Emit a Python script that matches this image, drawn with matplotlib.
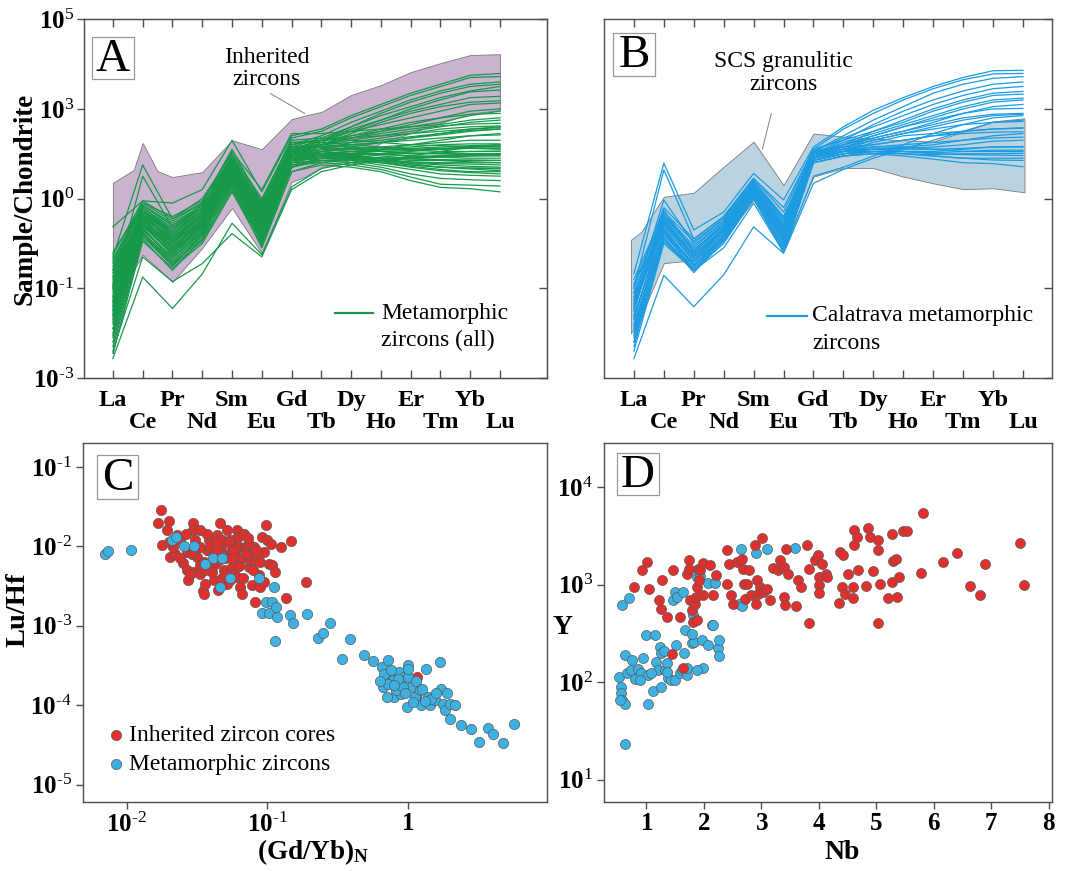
import numpy as np
import matplotlib
matplotlib.use('Agg')
import matplotlib.pyplot as plt
from matplotlib.patches import Rectangle
from matplotlib.ticker import NullLocator
import matplotlib.transforms as mtransforms

plt.rcParams['font.family'] = ['Liberation Serif', 'DejaVu Serif']
plt.rcParams['mathtext.fontset'] = 'custom'
plt.rcParams['mathtext.rm'] = 'Liberation Serif'
plt.rcParams['mathtext.bf'] = 'Liberation Serif:bold'
plt.rcParams['mathtext.it'] = 'Liberation Serif:italic'

ree = ['La', 'Ce', 'Pr', 'Nd', 'Sm', 'Eu', 'Gd', 'Tb', 'Dy', 'Ho', 'Er', 'Tm', 'Yb', 'Lu']

# --- panel A: inherited zircon envelope (log10 sample/chondrite) ---
inh_env_x = [0, 0.7, 1, 1.5, 2, 3, 4, 5, 6, 6.5, 7, 8, 9, 10, 11, 12, 13]
inh_env_hi = [1.35, 1.64, 2.24, 1.61, 1.48, 1.59, 2.30, 2.10, 2.77, 2.86, 2.93, 3.31, 3.53, 3.82, 4.02, 4.20, 4.22]
inh_env_lo = [-2.44, -0.6, -0.25, -0.55, -0.86, -0.1, 0.79, -0.22, 1.37, 1.5, 1.70, 1.86, 2.24, 2.46, 2.68, 2.90, 2.97]

# metamorphic zircons (all), log10 sample/chondrite
met_all_log = [
    [0.37, 0.95, 0.9, 1.2, 2.3, 1.15, 2.4, 2.55, 2.85, 3.1, 3.35, 3.55, 3.75, 3.79],
    [-0.3, 1.75, 0.55, 0.9, 2.1, 0.9, 2.35, 2.5, 2.8, 3.05, 3.3, 3.5, 3.7, 3.72],
    [-0.6, 0.85, 0.4, 0.8, 1.95, 0.8, 2.2, 2.4, 2.7, 2.95, 3.2, 3.4, 3.55, 3.6],
    [-0.9, 0.7, 0.2, 0.7, 1.85, 0.7, 2.15, 2.35, 2.6, 2.85, 3.05, 3.25, 3.4, 3.5],
    [-1.2, 0.6, 0.1, 0.6, 1.8, 0.55, 2.1, 2.3, 2.55, 2.75, 2.95, 3.1, 3.25, 3.28],
    [-0.5, 0.8, 0.3, 0.75, 1.7, 0.6, 2.0, 2.25, 2.5, 2.65, 2.8, 2.95, 3.1, 3.13],
    [-1.5, 0.5, -0.1, 0.5, 1.6, 0.4, 1.95, 2.2, 2.4, 2.55, 2.7, 2.8, 2.88, 2.9],
    [-0.8, 0.65, 0.0, 0.55, 1.75, 0.5, 2.05, 2.2, 2.35, 2.45, 2.55, 2.62, 2.66, 2.68],
    [-1.0, 0.55, 0.15, 0.65, 1.65, 0.45, 1.95, 2.1, 2.25, 2.35, 2.45, 2.55, 2.6, 2.62],
    [-1.3, 0.4, -0.2, 0.4, 1.55, 0.3, 1.9, 2.05, 2.1, 2.15, 2.2, 2.25, 2.3, 2.3],
    [-0.7, 0.75, 0.25, 0.7, 1.7, 0.65, 2.0, 2.1, 2.12, 2.13, 2.15, 2.2, 2.22, 2.22],
    [-1.8, 0.3, -0.3, 0.3, 1.5, 0.2, 1.85, 2.0, 2.05, 2.05, 2.07, 2.1, 2.12, 2.1],
    [-0.4, 0.9, 0.6, 0.95, 1.85, 0.85, 2.1, 2.15, 2.1, 2.05, 2.0, 2.0, 2.0, 2.0],
    [-2.0, 0.2, -0.5, 0.2, 1.4, 0.1, 1.8, 1.95, 2.0, 1.98, 1.95, 1.95, 1.95, 1.95],
    [-1.1, 0.6, 0.05, 0.5, 1.6, 0.5, 1.9, 2.0, 1.95, 1.9, 1.88, 1.87, 1.86, 1.85],
    [-1.6, 0.45, -0.25, 0.35, 1.45, 0.25, 1.85, 1.95, 1.9, 1.85, 1.8, 1.78, 1.77, 1.75],
    [-0.2, 0.85, 0.45, 0.85, 1.75, 0.7, 1.95, 2.0, 1.92, 1.85, 1.75, 1.7, 1.68, 1.68],
    [-2.3, 0.1, -0.6, 0.1, 1.3, 0.0, 1.7, 1.85, 1.85, 1.8, 1.72, 1.65, 1.6, 1.6],
    [-1.4, 0.5, -0.05, 0.45, 1.55, 0.35, 1.85, 1.9, 1.85, 1.75, 1.65, 1.55, 1.52, 1.5],
    [-0.9, 0.65, 0.1, 0.6, 1.6, 0.45, 1.8, 1.85, 1.8, 1.7, 1.55, 1.45, 1.42, 1.4],
    [-1.7, 0.35, -0.4, 0.25, 1.35, 0.15, 1.75, 1.8, 1.75, 1.65, 1.48, 1.32, 1.3, 1.28],
    [-2.1, 0.25, -0.45, 0.15, 1.25, -0.1, 1.6, 1.75, 1.7, 1.6, 1.4, 1.25, 1.22, 1.15],
    [-2.56, -0.75, -1.45, -0.68, 0.45, -0.25, 1.26, 1.67, 1.8, 1.85, 1.9, 1.95, 2.0, 2.0],
    [-2.4, -0.3, -0.85, -0.45, 0.22, -0.3, 1.2, 1.6, 1.75, 1.85, 1.95, 2.05, 2.15, 2.2],
    [-0.6, 0.7, 0.3, 0.9, 2.05, 1.2, 2.45, 2.45, 2.5, 2.55, 2.6, 2.65, 2.75, 2.8],
    [-1.0, 1.5, 0.35, 0.8, 1.9, 0.75, 2.25, 2.3, 2.35, 2.4, 2.45, 2.5, 2.55, 2.6],
    [-1.9, 0.45, -0.15, 0.5, 1.7, 0.6, 2.0, 2.3, 2.6, 2.9, 3.15, 3.35, 3.5, 3.55],
    [-1.25, 0.55, -0.1, 0.55, 1.65, 0.55, 2.0, 2.2, 2.45, 2.7, 2.9, 3.05, 3.15, 3.18],
    [-0.75, 0.6, 0.05, 0.6, 1.55, 0.4, 1.9, 1.95, 1.97, 2.0, 2.05, 2.1, 2.15, 2.15],
    [-1.5, 0.4, -0.2, 0.45, 1.5, 0.3, 1.85, 1.9, 1.88, 1.85, 1.82, 1.8, 1.8, 1.8],
    [-1.35, 0.5, 0.0, 0.55, 1.7, 0.55, 2.05, 2.15, 2.2, 2.25, 2.3, 2.35, 2.4, 2.42],
    [-0.95, 0.7, 0.15, 0.65, 1.8, 0.65, 2.1, 2.2, 2.3, 2.4, 2.5, 2.6, 2.7, 2.75],
    [-1.65, 0.35, -0.35, 0.3, 1.45, 0.3, 1.9, 2.05, 2.15, 2.25, 2.35, 2.45, 2.55, 2.58],
    [-0.55, 0.8, 0.35, 0.8, 1.9, 0.9, 2.2, 2.3, 2.4, 2.5, 2.6, 2.7, 2.85, 2.95],
    [-2.2, 0.15, -0.5, 0.05, 1.2, 0.05, 1.7, 1.9, 2.0, 2.1, 2.2, 2.3, 2.4, 2.45],
    [-1.05, 0.6, 0.1, 0.6, 1.75, 0.75, 2.05, 2.1, 2.05, 2.0, 1.95, 1.92, 1.9, 1.9],
    [-1.45, 0.45, -0.15, 0.4, 1.6, 0.45, 1.95, 2.05, 2.0, 1.95, 1.9, 1.85, 1.82, 1.8],
    [-0.85, 0.75, 0.2, 0.7, 1.85, 0.8, 2.15, 2.2, 2.15, 2.1, 2.08, 2.05, 2.05, 2.05],
    [-1.75, 0.3, -0.3, 0.25, 1.4, 0.2, 1.8, 1.95, 1.95, 1.9, 1.85, 1.85, 1.85, 1.85],
    [-0.35, 0.9, 0.5, 0.9, 1.95, 0.95, 2.25, 2.25, 2.2, 2.15, 2.1, 2.1, 2.12, 2.12],
    [-1.2, 0.55, 0.0, 0.5, 1.65, 0.5, 2.0, 2.05, 1.98, 1.9, 1.8, 1.75, 1.72, 1.7],
    [-1.55, 0.4, -0.2, 0.35, 1.5, 0.35, 1.9, 2.0, 1.95, 1.88, 1.78, 1.7, 1.66, 1.62],
    [-0.65, 0.7, 0.25, 0.75, 1.75, 0.6, 2.0, 2.1, 2.1, 2.1, 2.12, 2.15, 2.18, 2.2],
    [-1.9, 0.25, -0.4, 0.2, 1.35, 0.1, 1.75, 1.9, 1.92, 1.9, 1.9, 1.92, 1.95, 1.98],
    [-1.15, 0.6, 0.05, 0.6, 1.7, 0.6, 2.05, 2.15, 2.1, 2.05, 2.02, 2.0, 1.98, 1.97],
    [-0.45, 0.85, 0.4, 0.85, 1.8, 0.7, 2.1, 2.15, 2.2, 2.25, 2.35, 2.42, 2.5, 2.55],
    [-1.0, 0.65, 0.1, 0.65, 1.75, 0.55, 2.05, 2.2, 2.35, 2.5, 2.65, 2.8, 2.95, 3.0],
    [-2.05, 0.2, -0.45, 0.1, 1.3, 0.05, 1.7, 1.85, 1.85, 1.82, 1.75, 1.7, 1.68, 1.66],
    [-1.3, 0.5, -0.05, 0.45, 1.6, 0.4, 1.95, 2.0, 2.0, 2.0, 2.0, 2.02, 2.05, 2.06],
    [-0.75, 0.75, 0.3, 0.8, 1.85, 0.85, 2.15, 2.2, 2.25, 2.3, 2.38, 2.45, 2.52, 2.55],
    [-1.6, 0.4, -0.25, 0.35, 1.5, 0.35, 1.9, 1.95, 1.9, 1.8, 1.7, 1.62, 1.58, 1.55],
    [-0.95, 0.65, 0.2, 0.7, 1.8, 0.7, 2.1, 2.3, 2.5, 2.75, 3.0, 3.2, 3.38, 3.42],
    [-1.4, 0.45, -0.1, 0.45, 1.55, 0.4, 1.9, 2.0, 2.05, 2.08, 2.1, 2.12, 2.15, 2.17],
    [-2.45, 0.05, -0.55, 0.0, 1.15, -0.05, 1.6, 1.8, 1.88, 1.9, 1.92, 1.95, 1.98, 2.0],
    [-0.25, 0.95, 0.55, 1.0, 2.0, 1.0, 2.3, 2.35, 2.3, 2.25, 2.2, 2.18, 2.16, 2.16],
]

# --- panel B: SCS granulitic envelope and Calatrava metamorphic zircons ---
scs_env_x = [-0.1, 0.25, 1, 2, 3, 4, 5, 6, 7, 8, 9, 10, 11, 12, 13.05]
scs_env_hi = [0.08, 0.26, 1.04, 1.13, 1.71, 2.27, 1.30, 2.45, 2.38, 2.34, 2.30, 2.27, 2.49, 2.72, 2.79]
scs_env_lo = [-2.0, -1.6, -0.44, -0.37, 0.08, 0.97, -0.11, 1.49, 1.68, 1.68, 1.49, 1.34, 1.21, 1.23, 1.14]

cal_log = [
    [-0.67, 1.79, 0.3, 0.7, 1.56, 0.97, 2.15, 2.6, 2.97, 3.25, 3.5, 3.7, 3.85, 3.86],
    [-1.0, 1.64, 0.1, 0.6, 1.45, 0.8, 2.1, 2.55, 2.9, 3.2, 3.45, 3.65, 3.78, 3.79],
    [-1.2, 0.97, 0.0, 0.55, 1.4, 0.6, 2.05, 2.4, 2.75, 3.05, 3.35, 3.55, 3.68, 3.72],
    [-1.5, 0.75, -0.2, 0.45, 1.35, 0.5, 2.0, 2.3, 2.65, 2.95, 3.2, 3.4, 3.55, 3.6],
    [-0.9, 0.6, -0.1, 0.5, 1.3, 0.4, 2.05, 2.35, 2.6, 2.85, 3.1, 3.3, 3.45, 3.5],
    [-1.7, 0.5, -0.3, 0.35, 1.25, 0.3, 1.95, 2.2, 2.5, 2.75, 3.0, 3.2, 3.35, 3.39],
    [-1.3, 0.45, -0.35, 0.3, 1.2, 0.25, 2.0, 2.25, 2.45, 2.65, 2.85, 3.05, 3.2, 3.24],
    [-2.0, 0.35, -0.5, 0.2, 1.15, 0.15, 1.9, 2.2, 2.4, 2.6, 2.75, 2.9, 3.0, 3.01],
    [-1.1, 0.55, -0.2, 0.4, 1.3, 0.35, 1.95, 2.15, 2.35, 2.5, 2.65, 2.8, 2.88, 2.9],
    [-1.8, 0.3, -0.45, 0.25, 1.15, 0.1, 1.9, 2.1, 2.3, 2.45, 2.55, 2.65, 2.7, 2.72],
    [-2.2, 0.2, -0.55, 0.15, 1.1, 0.0, 1.85, 2.05, 2.25, 2.4, 2.45, 2.5, 2.55, 2.57],
    [-0.8, 0.7, 0.05, 0.55, 1.4, 0.55, 2.05, 2.15, 2.2, 2.3, 2.4, 2.45, 2.48, 2.49],
    [-1.4, 0.4, -0.4, 0.3, 1.2, 0.2, 1.95, 2.05, 2.1, 2.15, 2.2, 2.3, 2.4, 2.45],
    [-1.6, 0.25, -0.6, 0.1, 1.05, -0.05, 1.85, 2.0, 2.05, 2.05, 2.05, 2.1, 2.15, 2.16],
    [-1.9, 0.15, -0.65, 0.05, 1.0, -0.15, 1.8, 1.95, 2.05, 2.05, 2.02, 2.05, 2.08, 2.08],
    [-2.1, 0.1, -0.55, 0.1, 1.1, 0.1, 1.85, 2.0, 2.05, 2.0, 1.98, 2.0, 2.0, 2.01],
    [-1.2, 0.5, -0.25, 0.35, 1.25, 0.3, 1.95, 2.05, 2.05, 2.0, 1.95, 1.9, 1.9, 1.9],
    [-2.3, 0.05, -0.6, 0.0, 1.0, -0.2, 1.8, 1.95, 2.0, 1.95, 1.88, 1.8, 1.78, 1.71],
    [-2.57, -0.71, -1.41, -0.7, 0.37, -0.22, 1.34, 1.65, 1.9, 2.1, 2.3, 2.5, 2.7, 2.75],
    [-2.4, 0.0, -0.6, -0.1, 0.9, -0.2, 1.5, 1.7, 1.95, 2.2, 2.45, 2.65, 2.8, 2.85],
    [-1.0, 0.8, 0.1, 0.6, 1.45, 0.7, 2.1, 2.3, 2.5, 2.7, 2.95, 3.15, 3.3, 3.33],
    [-1.5, 0.65, -0.15, 0.45, 1.35, 0.45, 2.0, 2.1, 2.15, 2.15, 2.1, 2.05, 2.05, 2.05],
    [-1.25, 0.55, -0.3, 0.3, 1.25, 0.35, 1.95, 2.1, 2.2, 2.3, 2.4, 2.5, 2.55, 2.58],
    [-1.65, 0.4, -0.4, 0.25, 1.2, 0.2, 1.9, 2.05, 2.15, 2.2, 2.25, 2.3, 2.35, 2.37],
    [-0.95, 0.65, -0.05, 0.5, 1.35, 0.55, 2.05, 2.2, 2.35, 2.5, 2.7, 2.9, 3.05, 3.1],
    [-2.05, 0.25, -0.5, 0.15, 1.1, 0.05, 1.85, 2.0, 2.1, 2.1, 2.1, 2.12, 2.15, 2.15],
    [-1.45, 0.45, -0.3, 0.3, 1.25, 0.25, 1.95, 2.1, 2.1, 2.05, 2.0, 1.98, 1.97, 1.96],
    [-1.85, 0.3, -0.5, 0.2, 1.15, 0.1, 1.9, 2.05, 2.1, 2.12, 2.15, 2.2, 2.28, 2.3],
    [-1.1, 0.6, -0.15, 0.4, 1.3, 0.4, 2.0, 2.2, 2.4, 2.6, 2.8, 3.0, 3.15, 3.2],
    [-2.2, 0.1, -0.6, 0.05, 1.05, -0.1, 1.8, 1.95, 2.0, 2.0, 1.95, 1.9, 1.86, 1.85],
    [-1.35, 0.5, -0.25, 0.35, 1.3, 0.3, 2.0, 2.15, 2.3, 2.45, 2.6, 2.75, 2.85, 2.88],
]

# --- panel C: log10 (Gd/Yb)N vs log10 Lu/Hf ---
c_inh_gdyb = [-1.755, -1.779, -1.695, -1.714, -1.750, -1.690, -1.655, -1.667, -1.600, -1.571,
              -1.560, -1.529, -1.524, -1.512, -1.500, -1.476, -1.457, -1.445, -1.429, -1.417,
              -1.405, -1.381, -1.369, -1.357, -1.333, -1.329, -1.321, -1.310, -1.286, -1.286,
              -1.262, -1.250, -1.238, -1.226, -1.214, -1.210, -1.202, -1.190, -1.190, -1.179,
              -1.167, -1.155, -1.143, -1.131, -1.119, -1.107, -1.095, -1.090, -1.060, -1.048,
              -1.036, -1.024, -1.012, -1.000, -0.988, -0.976, -0.964, -0.948, -0.905, -0.864,
              -0.833, -0.726, -0.029, 0.067, 0.060, -1.524, -1.476, -1.381, -1.262, -1.286,
              -1.345, -1.238, -1.571, -1.619, -1.643, -1.429, -1.476, -1.536, -1.250, -1.214,
              -1.131, -1.071, -1.095, -1.357, -1.393, -1.452,
              -1.70, -1.62, -1.58, -1.52, -1.48, -1.44, -1.40, -1.36, -1.32, -1.30,
              -1.27, -1.24, -1.20, -1.17, -1.14, -1.10, -1.08, -1.05, -1.02, -1.45,
              -1.55, -1.35, -1.25, -1.15, -1.30]
c_inh_luhf = [-1.538, -1.706, -1.685, -1.790, -1.987, -2.134, -2.092, -2.008, -2.206, -2.071,
              -2.420, -1.706, -1.790, -1.924, -2.134, -2.239, -2.563, -2.471, -2.050, -1.924,
              -2.008, -2.113, -2.218, -1.861, -1.706, -2.008, -1.924, -2.303, -1.798, -2.113,
              -2.429, -2.261, -1.924, -2.092, -1.798, -1.882, -2.008, -2.176, -2.513, -2.597,
              -1.840, -2.008, -2.050, -2.261, -2.176, -2.492, -2.176, -2.702, -2.366, -2.513,
              -1.882, -2.071, -1.735, -1.924, -2.218, -1.966, -2.239, -2.324, -2.008, -2.647,
              -1.937, -2.450, -3.782, -3.647, -3.891, -2.324, -2.345, -2.429, -1.924, -2.471,
              -2.176, -2.345, -2.303, -1.924, -1.861, -1.840, -2.008, -2.092, -2.050, -2.387,
              -1.966, -2.113, -2.008, -2.050, -2.324, -2.197,
              -1.95, -2.15, -1.85, -2.05, -1.80, -2.30, -2.20, -1.95, -2.40, -2.15,
              -1.95, -2.05, -2.25, -2.40, -1.90, -2.30, -2.05, -2.20, -2.45, -2.60,
              -2.35, -2.55, -2.15, -2.10, -2.35]
c_met_gdyb = [-2.155, -2.131, -1.971, -1.674, -1.650, -1.588, -1.517, -1.440, -1.386, -1.321,
              -1.333, -1.262, -1.055, -0.952, -1.012, -0.964, -1.036, -0.988, -0.940, -0.929,
              -0.948, -0.838, -0.817, -0.719, -0.636, -0.600, -0.552, -0.471, -0.414, -0.310,
              -0.245, -0.183, -0.138, -0.179, -0.131, -0.107, -0.095, -0.060, -0.048, -0.024,
              -0.005, 0.000, 0.000, 0.024, 0.048, 0.083, 0.095, 0.131, 0.143, 0.155,
              0.190, 0.226, 0.238, 0.250, 0.262, 0.298, 0.298, 0.333, 0.376, 0.452,
              0.505, 0.571, 0.607, 0.679, 0.755, -0.143, -0.083, -0.167, -0.036, 0.036,
              0.167, -0.119, -0.071,
              -0.20, -0.10, -0.02, 0.06, 0.12, 0.20, -0.15, 0.00, 0.10, 0.28]
c_met_luhf = [-2.101, -2.063, -2.050, -1.916, -1.882, -1.992, -2.000, -2.227, -2.143, -2.143,
              -2.513, -2.395, -2.395, -2.513, -2.702, -2.702, -2.840, -2.840, -2.765, -2.891,
              -3.193, -2.861, -2.966, -2.849, -3.151, -3.092, -2.962, -3.416, -3.172, -3.366,
              -3.450, -3.521, -3.437, -3.765, -3.605, -3.689, -3.899, -3.584, -3.857, -3.647,
              -4.025, -3.500, -3.647, -3.773, -3.899, -3.815, -4.004, -3.542, -3.899, -4.004,
              -3.941, -3.458, -3.794, -3.983, -4.067, -4.172, -3.983, -4.004, -4.256, -4.298,
              -4.466, -4.286, -4.361, -4.479, -4.235, -3.731, -3.815, -3.605, -3.773, -3.962,
              -3.920, -3.563, -3.668,
              -3.70, -3.75, -3.85, -3.70, -3.95, -3.85, -3.90, -3.55, -3.80, -3.85]

# --- panel D: Nb vs log10 Y ---
d_inh_nb = [0.785, 0.930, 1.012, 1.041, 1.221, 1.261, 1.273, 1.349, 1.436, 1.465,
            1.581, 1.628, 1.697, 1.738, 1.744, 1.755, 1.784, 1.813, 1.843, 1.860,
            1.872, 1.883, 1.901, 1.918, 1.930, 1.988, 1.988, 2.104, 2.162, 2.209,
            2.395, 2.395, 2.435, 2.464, 2.499, 2.569, 2.656, 2.685, 2.714, 2.697,
            2.755, 2.790, 2.819, 2.888, 2.906, 2.917, 2.947, 2.976, 3.005, 3.034,
            3.092, 3.150, 3.208, 3.295, 3.324, 3.394, 3.400, 3.411, 3.429, 3.470,
            3.603, 3.644, 3.684, 3.789, 3.824, 3.836, 3.934, 3.992, 4.010, 4.010,
            4.010, 4.051, 4.126, 4.149, 4.353, 4.370, 4.399, 4.428, 4.457, 4.515,
            4.591, 4.591, 4.614, 4.614, 4.690, 4.672, 4.823, 4.864, 4.893, 4.940,
            5.038, 5.038, 5.038, 5.067, 5.213, 5.271, 5.282, 5.288, 5.346, 5.358,
            5.399, 5.474, 5.544, 5.782, 5.811, 6.160, 6.404, 6.636, 6.811, 6.886,
            7.508, 7.566]
d_inh_y = [2.976, 3.154, 3.232, 2.959, 2.846, 2.754, 3.051, 2.669, 2.287, 3.147,
           2.669, 2.147, 3.113, 3.249, 3.164, 2.840, 2.737, 2.618, 2.805, 2.874,
           2.976, 2.635, 3.164, 3.044, 3.147, 2.891, 3.222, 3.198, 2.891, 3.096,
           3.352, 3.010, 3.215, 2.891, 2.805, 3.232, 3.266, 3.164, 2.857, 3.010,
           3.010, 3.147, 2.891, 3.403, 2.805, 3.044, 2.908, 2.976, 3.481, 2.925,
           2.959, 2.840, 3.171, 3.147, 3.249, 3.181, 2.874, 2.788, 3.369, 3.113,
           2.782, 3.044, 2.976, 3.410, 2.601, 3.164, 3.249, 3.300, 3.078, 2.993,
           2.918, 3.215, 3.113, 3.078, 2.816, 3.334, 2.976, 3.300, 2.908, 3.113,
           2.976, 2.863, 3.556, 3.403, 3.147, 3.488, 2.986, 3.584, 3.488, 3.140,
           2.608, 3.352, 3.454, 3.010, 2.863, 3.515, 3.027, 3.242, 3.266, 2.874,
           3.078, 3.549, 3.549, 3.123, 3.734, 3.232, 3.324, 2.983, 2.891, 3.208,
           3.427, 3.000]
d_met_nb = [0.576, 0.698, 0.628, 0.524, 0.553, 0.564, 0.582, 0.622, 0.622, 0.535,
            0.663, 0.739, 0.756, 0.797, 0.855, 0.913, 0.942, 1.000, 1.029, 1.029,
            1.145, 1.116, 1.174, 1.203, 1.232, 1.244, 1.261, 1.302, 1.320, 1.349,
            1.378, 1.424, 1.465, 1.494, 1.494, 1.511, 1.523, 1.581, 1.610, 1.628,
            1.657, 1.668, 1.697, 1.697, 1.784, 1.813, 1.831, 1.872, 1.930, 1.959,
            1.988, 2.075, 2.075, 2.133, 2.162, 2.191, 2.249, 2.261, 2.267, 2.644,
            2.615, 2.656, 2.906, 3.103, 3.586, 1.872, 1.784, 1.349, 0.884, 1.087]
d_met_y = [2.795, 2.863, 2.273, 2.055, 1.952, 1.884, 1.816, 1.771, 1.365, 1.816,
           2.089, 2.123, 2.225, 2.027, 2.130, 2.089, 2.242, 2.481, 2.072, 1.775,
           2.481, 1.911, 2.208, 2.123, 2.362, 1.945, 2.294, 2.321, 2.123, 2.198,
           2.038, 2.020, 2.840, 2.925, 2.020, 2.379, 2.874, 2.089, 2.123, 2.925,
           2.294, 2.532, 2.072, 2.140, 2.403, 2.686, 2.413, 3.078, 3.085, 2.430,
           2.140, 2.379, 3.017, 2.584, 2.584, 3.017, 2.345, 2.430, 2.266, 3.369,
           2.805, 2.778, 3.324, 3.369, 3.379, 2.123, 2.498, 2.106, 2.020, 2.089]

green = '#17994a'
blue_line = '#1c9be2'
red = '#e0302e'
blue_dot = '#3cb1e2'
purple = '#cab3cf'
grayblue = '#b9d3e0'
spine_col = '#4d4d4d'


def pow_label(exp):
    # "10" in bold with a small hyphenated exponent, as in the original figure
    if exp < 0:
        return r'$\mathbf{10}^{\text{-}%d}$' % (-exp)
    return r'$\mathbf{10}^{%d}$' % exp


fig = plt.figure(figsize=(10.77, 8.71), dpi=100)
axA = fig.add_axes([0.078, 0.566, 0.430, 0.412])
axB = fig.add_axes([0.5608, 0.566, 0.416, 0.412])
axC = fig.add_axes([0.077, 0.0792, 0.431, 0.412])
axD = fig.add_axes([0.5608, 0.0792, 0.416, 0.412])

for ax in (axA, axB, axC, axD):
    for s in ax.spines.values():
        s.set_color(spine_col)
        s.set_linewidth(1.0)


def panel_box(ax, x0, x1, y0, y1, letter):
    ax.add_patch(Rectangle((x0, y0), x1 - x0, y1 - y0, transform=ax.transAxes,
                           fc='white', ec='#999999', lw=0.9, zorder=5))
    ax.text((x0 + x1) / 2, (y0 + y1) / 2 - 0.004, letter, transform=ax.transAxes,
            ha='center', va='center', fontsize=34, zorder=6)


def ree_axes(ax, xlim):
    ax.set_yscale('log')
    ax.set_ylim(1e-3, 1e5)
    ax.set_xlim(*xlim)
    ax.set_xticks(range(len(ree)))
    ax.set_yticks([1e-3, 1e-1, 1e1, 1e3, 1e5])
    ax.yaxis.set_minor_locator(NullLocator())
    ax.tick_params(axis='x', direction='in', length=6, width=1, color=spine_col,
                   top=True, bottom=True, labelbottom=False)
    trans = mtransforms.blended_transform_factory(ax.transData, ax.transAxes)
    for i, el in enumerate(ree):
        ax.text(i, -0.063 if i % 2 == 0 else -0.125, el, transform=trans,
                ha='center', va='center', fontsize=17.5, fontweight='bold')


# ---------- A ----------
ree_axes(axA, (-0.97, 14.58))
axA.fill_between(inh_env_x, np.power(10.0, inh_env_lo), np.power(10.0, inh_env_hi),
                 facecolor=purple, edgecolor='#7a7a7a', lw=0.6, zorder=1)
for row in met_all_log:
    axA.plot(range(len(ree)), np.power(10.0, row), color=green, lw=0.9, zorder=2)
axA.set_yticklabels([pow_label(-3), pow_label(-1), pow_label(0), pow_label(3), pow_label(5)],
                    fontsize=18)
axA.tick_params(axis='y', direction='out', length=5, width=1, color=spine_col, pad=2)
axAr = axA.twinx()
axAr.set_yscale('log')
axAr.set_ylim(1e-3, 1e5)
axAr.set_yticks([1e-3, 1e-1, 1e1, 1e3, 1e5])
axAr.yaxis.set_minor_locator(NullLocator())
axAr.tick_params(axis='y', direction='in', length=6, width=1, color=spine_col, labelright=False)
for s in axAr.spines.values():
    s.set_color(spine_col)
axA.set_ylabel('Sample/Chondrite', fontsize=19.5, fontweight='bold', va='center')
axA.yaxis.set_label_coords(-0.128, 0.5)
axA.annotate('', xy=(0.482, 0.733), xytext=(0.397, 0.797), xycoords='axes fraction',
             arrowprops=dict(arrowstyle='-', color='#808080', lw=0.7))
axA.text(0.395, 0.862, 'Inherited\nzircons', transform=axA.transAxes, ha='center',
         va='center', fontsize=17, linespacing=1.1)
axA.plot([0.541, 0.623], [0.180, 0.180], transform=axA.transAxes, color=green, lw=1.6)
axA.text(0.642, 0.180, 'Metamorphic', transform=axA.transAxes, ha='left', va='center', fontsize=17)
axA.text(0.642, 0.105, 'zircons (all)', transform=axA.transAxes, ha='left', va='center', fontsize=17)
panel_box(axA, 0.0173, 0.108, 0.833, 0.950, 'A')

# ---------- B ----------
ree_axes(axB, (-1.0, 13.97))
axB.fill_between(scs_env_x, np.power(10.0, scs_env_lo), np.power(10.0, scs_env_hi),
                 facecolor=grayblue, edgecolor='#7a7a7a', lw=0.6, zorder=1)
for row in cal_log:
    axB.plot(range(len(ree)), np.power(10.0, row), color=blue_line, lw=0.9, zorder=2)
axB.tick_params(axis='y', direction='in', length=6, width=1, color=spine_col,
                left=False, right=True, labelleft=False)
axB.annotate('', xy=(0.352, 0.630), xytext=(0.375, 0.745), xycoords='axes fraction',
             arrowprops=dict(arrowstyle='-', color='#808080', lw=0.7))
axB.text(0.400, 0.850, 'SCS granulitic\nzircons', transform=axB.transAxes, ha='center',
         va='center', fontsize=17, linespacing=1.1)
axB.plot([0.364, 0.453], [0.173, 0.173], transform=axB.transAxes, color=blue_line, lw=1.6)
axB.text(0.465, 0.173, 'Calatrava metamorphic', transform=axB.transAxes, ha='left',
         va='center', fontsize=17)
axB.text(0.465, 0.095, 'zircons', transform=axB.transAxes, ha='left', va='center', fontsize=17)
panel_box(axB, 0.020, 0.114, 0.841, 0.961, 'B')

# ---------- C ----------
axC.set_xscale('log')
axC.set_yscale('log')
axC.scatter(np.power(10.0, c_inh_gdyb), np.power(10.0, c_inh_luhf), s=55, c=red,
            edgecolors='#5a5a5a', linewidths=0.5, zorder=3, label='Inherited zircon cores')
axC.scatter(np.power(10.0, c_met_gdyb), np.power(10.0, c_met_luhf), s=55, c=blue_dot,
            edgecolors='#5a5a5a', linewidths=0.5, zorder=3, label='Metamorphic zircons')
axC.set_xlim(10 ** -2.31, 10 ** 0.99)
axC.set_ylim(10 ** -5.22, 10 ** -0.70)
axC.set_xticks([1e-2, 1e-1, 1])
axC.set_xticklabels([pow_label(-2), pow_label(-1), r'$\mathbf{1}$'], fontsize=18)
axC.set_yticks([1e-5, 1e-4, 1e-3, 1e-2, 1e-1])
axC.set_yticklabels([pow_label(-5), pow_label(-4), pow_label(-3), pow_label(-2), pow_label(-1)],
                    fontsize=18)
axC.xaxis.set_minor_locator(NullLocator())
axC.yaxis.set_minor_locator(NullLocator())
axC.tick_params(direction='out', length=5, width=1, color=spine_col, pad=3)
axC.set_ylabel('Lu/Hf', fontsize=20.5, fontweight='bold', va='center')
axC.yaxis.set_label_coords(-0.140, 0.535)
axC.set_xlabel(r'(Gd/Yb)$_{\mathbf{N}}$', fontsize=19.5, fontweight='bold', va='center')
axC.xaxis.set_label_coords(0.496, -0.139)
axC.legend(loc='lower left', bbox_to_anchor=(0.045, 0.075), frameon=False, fontsize=17,
           handletextpad=0.05, handlelength=1.0, labelspacing=0.3, borderaxespad=0,
           borderpad=0)
panel_box(axC, 0.030, 0.119, 0.844, 0.967, 'C')

# ---------- D ----------
axD.set_yscale('log')
axD.scatter(d_met_nb, np.power(10.0, d_met_y), s=52, c=blue_dot, edgecolors='#5a5a5a',
            linewidths=0.5, zorder=3)
axD.scatter(d_inh_nb, np.power(10.0, d_inh_y), s=52, c=red, edgecolors='#5a5a5a',
            linewidths=0.5, zorder=3)
axD.set_xlim(0.26, 8.06)
axD.set_ylim(10 ** 0.77, 10 ** 4.45)
axD.set_xticks(range(1, 9))
axD.set_xticklabels([r'$\mathbf{%d}$' % v for v in range(1, 9)], fontsize=18)
axD.set_yticks([1e1, 1e2, 1e3, 1e4])
axD.set_yticklabels([pow_label(1), pow_label(2), pow_label(3), pow_label(4)], fontsize=18)
axD.yaxis.set_minor_locator(NullLocator())
axD.tick_params(direction='out', length=5, width=1, color=spine_col, pad=3)
axD.set_ylabel('Y', fontsize=20, fontweight='bold', rotation=0, va='center', ha='center')
axD.yaxis.set_label_coords(-0.092, 0.487)
axD.set_xlabel('Nb', fontsize=20, fontweight='bold', va='center')
axD.xaxis.set_label_coords(0.531, -0.142)
panel_box(axD, 0.029, 0.123, 0.855, 0.972, 'D')

fig.savefig('out.png', dpi=100)
